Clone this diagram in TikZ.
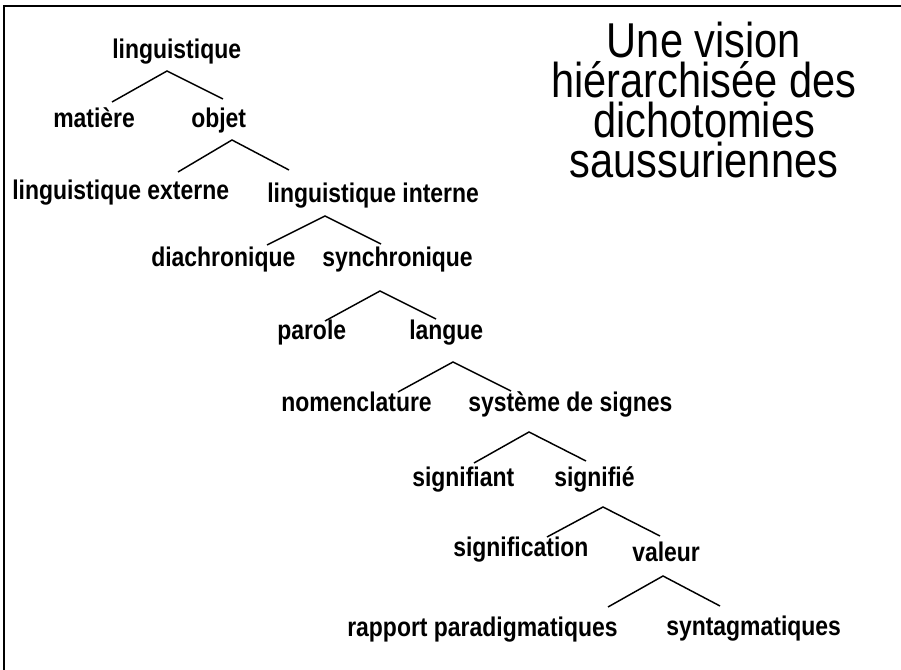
\documentclass[tikz,border=0pt]{standalone}
\usepackage{fontspec}
\setmainfont{Liberation Sans}[FakeStretch=0.85]
\usepackage{tikz}

\begin{document}
\begin{tikzpicture}[x=0.75pt,y=-0.75pt]
        \tikzstyle{every node} = [rectangle, inner sep=0pt, anchor=base west, font=\fontsize{20.25}{24}\selectfont\bfseries]
        \tikzstyle{titre} = [anchor=base, align=center, font=\fontsize{36.7}{30}\selectfont]
        \useasboundingbox (0,0) rectangle (901,670);
        \draw[line width=1.3pt] (4,6) rectangle (930,700);

        \node (ling) at (112,59) {linguistique};
        \node (mat) at (53,128) {matière};
        \node (obj) at (191,128) {objet};
        \node (ext) at (12,200) {linguistique externe};
        \node (int) at (267,203) {linguistique interne};
        \node (dia) at (151,267) {diachronique};
        \node (syn) at (322,267) {synchronique};
        \node (par) at (277,340) {parole};
        \node (lan) at (409,340) {langue};
        \node (nom) at (281,412) {nomenclature};
        \node (sys) at (468,412) {système de signes};
        \node (sgt) at (412,487) {signifiant};
        \node (sge) at (554,487) {signifié};
        \node (sgn) at (453,557) {signification};
        \node (val) at (632,562) {valeur};
        \node (rap) at (347,637) {rapport paradigmatiques};
        \node (stg) at (666,636) {syntagmatiques};

        % base = ligne du bas
        \node[titre] (titre) at (704,178) {Une vision\\hiérarchisée des\\dichotomies\\saussuriennes};

        % branches: sommet / gauche / droite
        \foreach \n/\tx/\ty/\lx/\ly/\rx/\ry in {1/167/71/112/102/223/99, 2/232/140/178/172/289/170,
                3/325/216/267/245/381/244, 4/380/291/325/321/436/319, 5/453/362/398/392/511/391,
                6/529/432/474/463/586/461, 7/603/507/547/537/660/536, 8/663/576/608/607/720/606}
        {
            \coordinate (t\n) at (\tx,\ty);
            \coordinate (l\n) at (\lx,\ly);
            \coordinate (r\n) at (\rx,\ry);
            \draw[line width=1.1pt] (l\n) -- (t\n) -- (r\n);
        }
\end{tikzpicture}
\end{document}
